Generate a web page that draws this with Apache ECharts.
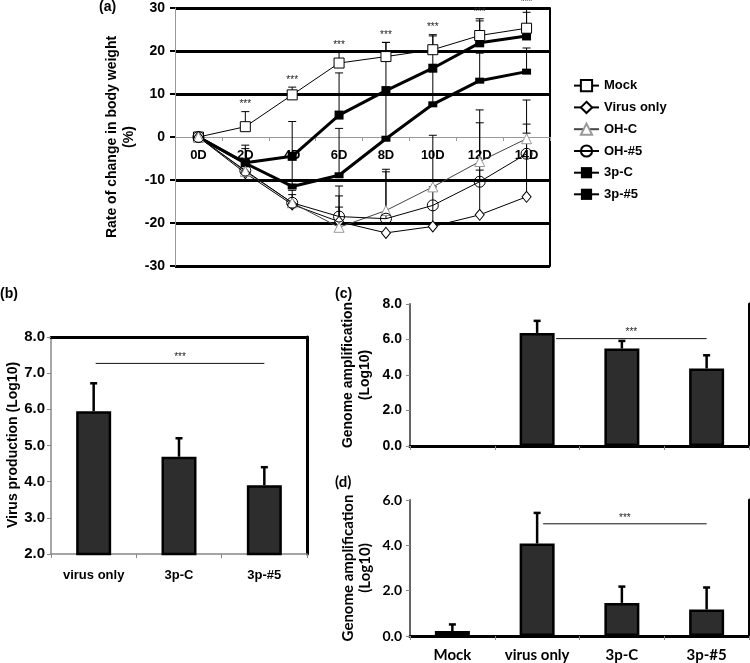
<!DOCTYPE html>
<html>
<head>
<meta charset="utf-8">
<script src="https://cdn.jsdelivr.net/npm/echarts@6/dist/echarts.min.js"></script>
<style>
  html, body { margin: 0; padding: 0; background: #fff; }
  #main { width: 750px; height: 663px; }
</style>
</head>
<body>
<div id="main"></div>
<script>
// (a) body weight change
const days = ['0D', '2D', '4D', '6D', '8D', '10D', '12D', '14D']
const mock = [0, 2.4, 9.8, 17.2, 18.7, 20.3, 23.6, 25.3]
const mockTop = [null, 5.9, 11.6, 19.8, 22.0, 23.8, 27.5, 29.7]
const mockSig = ['', '***', '***', '***', '***', '***', '***', '***']
const virusOnly = [0, -8.4, -15.7, -19.7, -22.3, -20.8, -18.1, -13.9]
const virusOnlyTop = [null, null, -13.4, -13.7, null, -11.6, -7.7, 0.9]
const ohC = [0, -8.0, -15.3, -21.0, -17.1, -11.6, -5.7, -0.4]
const ohCTop = [null, null, null, -16.3, -7.5, 0.4, 6.3, 8.6]
const oh5 = [0, -7.8, -15.3, -18.5, -19.0, -15.9, -10.4, -3.9]
const oh5Top = [null, null, -12.4, -11.4, -8.1, null, 3.3, 3.0]
const p3C = [0, -6.1, -11.5, -8.9, -0.4, 7.6, 13.1, 15.2]
const p3CTop = [null, -2.7, -4.0, 2.0, 10.0, 16.0, 19.5, 20.7]
const p35 = [0, -6.0, -4.5, 5.1, 10.8, 16.0, 21.9, 23.5]
const p35Top = [null, -1.9, 3.6, 14.9, 22.0, 23.5, 27.0, 29.0]

// (b) virus production
const bCats = ['virus only', '3p-C', '3p-#5']
const bValues = [5.95, 4.69, 3.9]
const bTops = [6.72, 5.2, 4.4]
// significance bar: [from category, to category, level]
const bSig = [0, 2, 7.27]

// (c) and (d) genome amplification
const cdCats = ['Mock', 'virus only', '3p-C', '3p-#5']
const cValues = [null, 6.37, 5.49, 4.37]
const cTops = [null, 7.05, 5.92, 5.11]
const cSig = [1, 3, 6.05]
const dValues = [0.22, 4.08, 1.46, 1.17]
const dTops = [0.51, 5.43, 2.18, 2.14]
const dSig = [1, 3, 4.95]

const chart = echarts.init(document.getElementById('main'))
const AR = 'Liberation Sans, Arial, sans-serif'
const CAL = 'Lato, Open Sans, sans-serif'

// error bar (upper only) as custom series
function errSeries (vals, tops, xi, yi, lw, capW, sig) {
  const data = []
  vals.forEach((v, i) => {
    if (tops[i] != null && v != null) data.push([i, v, tops[i]])
  })
  return {
    type: 'custom',
    xAxisIndex: xi,
    yAxisIndex: yi,
    z: 3,
    silent: true,
    encode: { x: 0, y: [1, 2] },
    data: data,
    renderItem (params, api) {
      const i = api.value(0)
      const p0 = api.coord([i, api.value(1)])
      const p1 = api.coord([i, api.value(2)])
      const st = { stroke: '#000', lineWidth: lw }
      const kids = [
        { type: 'line', shape: { x1: p0[0], y1: p0[1], x2: p1[0], y2: p1[1] }, style: st },
        { type: 'line', shape: { x1: p1[0] - capW / 2, y1: p1[1], x2: p1[0] + capW / 2, y2: p1[1] }, style: st }
      ]
      if (sig && sig[i]) {
        kids.push({
          type: 'text',
          x: p1[0], y: p1[1] - 7,
          style: { text: sig[i], textAlign: 'center', textVerticalAlign: 'middle', font: '10px ' + AR, fill: '#222' }
        })
      }
      return { type: 'group', children: kids }
    }
  }
}

// horizontal significance bar with *** above its middle
function sigSeries (sig, xi, yi, startPad) {
  return {
    type: 'custom',
    xAxisIndex: xi,
    yAxisIndex: yi,
    z: 5,
    silent: true,
    encode: { x: [0, 1], y: 2 },
    data: [sig],
    renderItem (params, api) {
      const lv = api.value(2)
      const p0 = api.coord([api.value(0), lv])
      const p1 = api.coord([api.value(1), lv])
      const x0 = p0[0] + startPad
      return {
        type: 'group',
        children: [
          { type: 'line', shape: { x1: x0, y1: p0[1], x2: p1[0], y2: p1[1] }, style: { stroke: '#111', lineWidth: 1 } },
          {
            type: 'text', x: (x0 + p1[0]) / 2, y: p0[1] - 6,
            style: { text: '***', textAlign: 'center', textVerticalAlign: 'middle', font: '10px ' + AR, fill: '#222' }
          }
        ]
      }
    }
  }
}

function lineSeries (name, data, opt) {
  return Object.assign({
    name: name,
    type: 'line',
    xAxisIndex: 0,
    yAxisIndex: 0,
    data: data,
    z: 4,
    emphasis: { disabled: true }
  }, opt)
}

function barSeries (data, xi, yi) {
  return {
    type: 'bar',
    xAxisIndex: xi,
    yAxisIndex: yi,
    data: data,
    barWidth: 35,
    itemStyle: { color: '#2d2d2d', borderColor: '#000', borderWidth: 2.5 },
    emphasis: { disabled: true }
  }
}

const boldAr = { fontFamily: AR, fontWeight: 'bold', color: '#000' }

const option = {
  animation: false,
  backgroundColor: '#fff',
  grid: [
    { left: 175, top: 8, width: 375, height: 258 },
    { left: 51, top: 337, width: 256, height: 217 },
    { left: 410, top: 304, width: 339, height: 142 },
    { left: 410, top: 500, width: 339, height: 137 }
  ],
  legend: {
    orient: 'vertical',
    left: 568,
    top: 74,
    itemWidth: 25,
    itemHeight: 14,
    itemGap: 8.6,
    textStyle: { fontFamily: AR, fontWeight: 'bold', fontSize: 13, color: '#000' },
    data: ['Mock', 'Virus only', 'OH-C', 'OH-#5', '3p-C', '3p-#5']
  },
  xAxis: [
    {
      // the zero line of panel (a): bottom axis lifted to y = 0
      gridIndex: 0, type: 'category', data: days, position: 'bottom', offset: -129,
      axisLine: { onZero: false, lineStyle: { color: '#999', width: 1 } },
      axisTick: { show: true, length: 4, lineStyle: { color: '#999' } },
      axisLabel: Object.assign({ fontSize: 13, margin: 12 }, boldAr),
      splitLine: { show: false }
    },
    {
      gridIndex: 1, type: 'category', data: bCats,
      axisLine: { lineStyle: { color: '#888', width: 1.5 } },
      axisTick: { show: true, length: 4, lineStyle: { color: '#888' } },
      axisLabel: Object.assign({ fontSize: 13, margin: 15 }, boldAr)
    },
    {
      gridIndex: 1, type: 'category', data: bCats, position: 'top',
      axisLine: { lineStyle: { color: '#000', width: 3 } },
      axisTick: { show: false }, axisLabel: { show: false }
    },
    {
      gridIndex: 2, type: 'category', data: cdCats,
      axisLine: { lineStyle: { color: '#666', width: 2 } },
      axisTick: { show: true, length: 4, lineStyle: { color: '#888' } },
      axisLabel: { show: false }
    },
    {
      gridIndex: 2, type: 'category', data: cdCats, position: 'top',
      axisLine: { lineStyle: { color: '#000', width: 3 } },
      axisTick: { show: false }, axisLabel: { show: false }
    },
    {
      gridIndex: 3, type: 'category', data: cdCats,
      axisLine: { lineStyle: { color: '#666', width: 2 } },
      axisTick: { show: true, length: 4, lineStyle: { color: '#888' } },
      axisLabel: { fontFamily: CAL, fontWeight: 'bold', fontSize: 15, color: '#000', margin: 12 }
    },
    {
      gridIndex: 3, type: 'category', data: cdCats, position: 'top',
      axisLine: { lineStyle: { color: '#000', width: 3 } },
      axisTick: { show: false }, axisLabel: { show: false }
    }
  ],
  yAxis: [
    {
      gridIndex: 0, type: 'value', min: -30, max: 30, interval: 10,
      axisLine: { show: true, onZero: false, lineStyle: { color: '#999', width: 1 } },
      axisTick: { show: true, length: 5, lineStyle: { color: '#000', width: 2 } },
      axisLabel: Object.assign({ fontSize: 14, margin: 10 }, boldAr),
      splitLine: { show: true, lineStyle: { width: 3, color: ['#000', '#000', '#000', 'rgba(0,0,0,0)', '#000', '#000', '#000'] } }
    },
    {
      gridIndex: 0, type: 'value', min: -30, max: 30, interval: 10, position: 'right',
      axisLine: { show: true, onZero: false, lineStyle: { color: '#000', width: 2 } },
      axisTick: { show: false }, axisLabel: { show: false }, splitLine: { show: false }
    },
    {
      gridIndex: 1, type: 'value', min: 2, max: 8, interval: 1,
      axisLine: { show: true, lineStyle: { color: '#888', width: 1.5 } },
      axisTick: { show: true, length: 4, lineStyle: { color: '#888' } },
      axisLabel: Object.assign({ fontSize: 15, margin: 6, formatter: v => v.toFixed(1) }, boldAr),
      splitLine: { show: false }
    },
    {
      gridIndex: 1, type: 'value', min: 2, max: 8, interval: 1, position: 'right',
      axisLine: { show: true, lineStyle: { color: '#000', width: 3 } },
      axisTick: { show: false }, axisLabel: { show: false }, splitLine: { show: false }
    },
    {
      gridIndex: 2, type: 'value', min: 0, max: 8, interval: 2,
      axisLine: { show: true, lineStyle: { color: '#666', width: 2 } },
      axisTick: { show: true, length: 4, lineStyle: { color: '#888' } },
      axisLabel: Object.assign({ fontSize: 14, margin: 8, formatter: v => v.toFixed(1) }, boldAr),
      splitLine: { show: false }
    },
    {
      gridIndex: 2, type: 'value', min: 0, max: 8, interval: 2, position: 'right',
      axisLine: { show: true, lineStyle: { color: '#000', width: 3 } },
      axisTick: { show: false }, axisLabel: { show: false }, splitLine: { show: false }
    },
    {
      gridIndex: 3, type: 'value', min: 0, max: 6, interval: 2,
      axisLine: { show: true, lineStyle: { color: '#666', width: 2 } },
      axisTick: { show: true, length: 4, lineStyle: { color: '#888' } },
      axisLabel: { fontFamily: CAL, fontWeight: 'bold', fontSize: 14, color: '#000', margin: 8, formatter: v => v.toFixed(1) },
      splitLine: { show: false }
    },
    {
      gridIndex: 3, type: 'value', min: 0, max: 6, interval: 2, position: 'right',
      axisLine: { show: true, lineStyle: { color: '#000', width: 3 } },
      axisTick: { show: false }, axisLabel: { show: false }, splitLine: { show: false }
    }
  ],
  graphic: [
    { type: 'text', left: 99, top: 0, style: { text: '(a)', font: 'bold 14px ' + AR, fill: '#000' } },
    { type: 'text', left: 0, top: 287, style: { text: '(b)', font: 'bold 14px ' + AR, fill: '#000' } },
    { type: 'text', left: 335, top: 287, style: { text: '(c)', font: 'bold 14px ' + AR, fill: '#000' } },
    { type: 'text', left: 335, top: 475, style: { text: '(d)', font: 'bold 15px ' + CAL, fill: '#000' } },
    {
      type: 'text', x: 121, y: 137, rotation: Math.PI / 2,
      style: { text: 'Rate of change in body weight\n(%)', textAlign: 'center', textVerticalAlign: 'middle', lineHeight: 17, font: 'bold 14px ' + AR, fill: '#000' }
    },
    {
      type: 'text', x: 13, y: 445, rotation: Math.PI / 2,
      style: { text: 'Virus production (Log10)', textAlign: 'center', textVerticalAlign: 'middle', font: 'bold 14px ' + AR, fill: '#000' }
    },
    {
      type: 'text', x: 357, y: 375, rotation: Math.PI / 2,
      style: { text: 'Genome amplification\n(Log10)', textAlign: 'center', textVerticalAlign: 'middle', lineHeight: 17, font: 'bold 14px ' + AR, fill: '#000' }
    },
    {
      type: 'text', x: 357, y: 568, rotation: Math.PI / 2,
      style: { text: 'Genome amplification\n(Log10)', textAlign: 'center', textVerticalAlign: 'middle', lineHeight: 17, font: 'bold 15px ' + CAL, fill: '#000' }
    }
  ],
  series: [
    errSeries(mock, mockTop, 0, 0, 1, 8, mockSig),
    errSeries(virusOnly, virusOnlyTop, 0, 0, 1, 8),
    errSeries(ohC, ohCTop, 0, 0, 1, 8),
    errSeries(oh5, oh5Top, 0, 0, 1, 8),
    errSeries(p3C, p3CTop, 0, 0, 1, 8),
    errSeries(p35, p35Top, 0, 0, 1, 8),
    lineSeries('3p-C', p3C, {
      symbol: 'rect', symbolSize: [9, 6],
      lineStyle: { color: '#000', width: 3 },
      itemStyle: { color: '#000' }
    }),
    lineSeries('3p-#5', p35, {
      symbol: 'rect', symbolSize: 9,
      lineStyle: { color: '#000', width: 3 },
      itemStyle: { color: '#000' }
    }),
    lineSeries('Mock', mock, {
      symbol: 'rect', symbolSize: 10,
      lineStyle: { color: '#000', width: 1 },
      itemStyle: { color: '#fff', borderColor: '#000', borderWidth: 1 }
    }),
    lineSeries('Virus only', virusOnly, {
      symbol: 'diamond', symbolSize: [9, 11],
      lineStyle: { color: '#000', width: 1 },
      itemStyle: { color: '#fff', borderColor: '#000', borderWidth: 1 }
    }),
    lineSeries('OH-C', ohC, {
      symbol: 'triangle', symbolSize: 10,
      lineStyle: { color: '#444', width: 1 },
      itemStyle: { color: '#fff', borderColor: '#999', borderWidth: 1 }
    }),
    lineSeries('OH-#5', oh5, {
      symbol: 'circle', symbolSize: 11,
      lineStyle: { color: '#000', width: 1 },
      itemStyle: { color: 'rgba(255,255,255,0)', borderColor: '#000', borderWidth: 1 }
    }),
    barSeries(bValues, 1, 2),
    errSeries(bValues, bTops, 1, 2, 2.5, 7),
    sigSeries(bSig, 1, 2, 2),
    barSeries(cValues, 3, 4),
    errSeries(cValues, cTops, 3, 4, 2.5, 7),
    sigSeries(cSig, 3, 4, 19),
    barSeries(dValues, 5, 6),
    errSeries(dValues, dTops, 5, 6, 2.5, 7),
    sigSeries(dSig, 5, 6, 6)
  ]
}

chart.setOption(option)
</script>
</body>
</html>
